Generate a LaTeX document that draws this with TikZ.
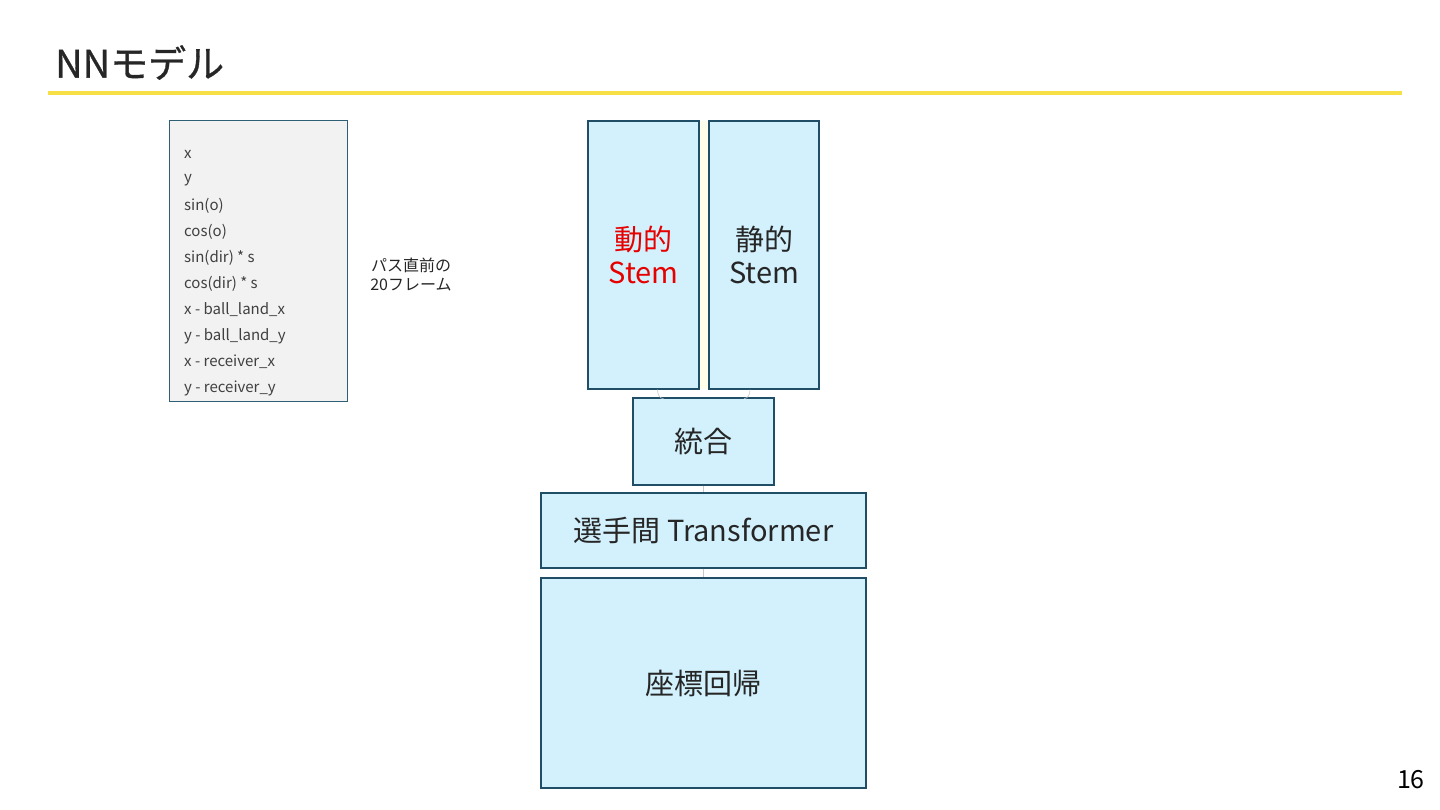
\documentclass[tikz,border=0pt]{standalone}
\usepackage{fontspec}
\setmainfont{Noto Sans CJK JP}
\newfontfamily\titlefont[FakeBold=0.8]{Noto Sans CJK JP}
\usetikzlibrary{positioning}
\definecolor{boxfill}{HTML}{D2F1FC}
\definecolor{boxline}{HTML}{1F4E66}
\definecolor{listfill}{HTML}{F2F2F2}
\definecolor{listline}{HTML}{2F5F75}
\definecolor{titlebar}{HTML}{F7E046}
\definecolor{textgray}{HTML}{404040}
\definecolor{stemred}{HTML}{E60000}
\definecolor{linkgray}{HTML}{C8C8C8}

\begin{document}
\begin{tikzpicture}[x=1pt,y=-1pt,
    block/.style={draw=boxline,line width=1.3pt,fill=boxfill,inner sep=0pt,text=black!85,font=\fontsize{29}{33}\selectfont,align=center},
    link/.style={draw=linkgray,line width=0.6pt}]
        \useasboundingbox (0,0) rectangle (1440,810);
        % title
        \node [anchor=south west,inner sep=0pt,text=black!85,font=\titlefont\fontsize{38}{40}\selectfont] (title) at (55,80) {NNモデル};
        \draw [titlebar,line width=4pt] (48,93) -- (1402,93);
        % input features
        \draw [listline,line width=1pt,fill=listfill] (169,121) rectangle (347,401);
        \foreach \feat [count=\i] in {x,y,sin(o),cos(o),sin(dir) * s,cos(dir) * s,x - ball\_land\_x,y - ball\_land\_y,x - receiver\_x,y - receiver\_y}
            \node [anchor=west,inner sep=0pt,text=textgray,font=\fontsize{15}{17}\selectfont] (feat\i) at (184,128+26*\i) {\feat};
        \node [align=center,text=black!85,font=\fontsize{16}{19}\selectfont] (frames) at (411,275) {パス直前の\\20フレーム};
        % model
        \fill [yellow!8] (697,121) rectangle (711,389);
        \node [block,minimum width=111pt,minimum height=268pt,text=stemred] (dyn) at (643.5,255) {動的\\Stem};
        \node [block,minimum width=110pt,minimum height=268pt] (sta) at (764,255) {静的\\Stem};
        \node [block,minimum width=141pt,minimum height=87pt] (merge) at (703.5,441.5) {統合};
        \node [block,minimum width=325pt,minimum height=75pt] (trans) at (703.5,530.5) {選手間 Transformer};
        \node [block,minimum width=325pt,minimum height=210pt] (reg) at (703.5,683) {座標回帰};
        \draw [link] (dyn.south) ++(14,0) to [out=-90,in=180] ++(6,9);
        \draw [link] (sta.south) ++(-14,0) to [out=-90,in=0] ++(-6,9);
        \draw [link] (merge) -- (trans);
        \draw [link] (trans) -- (reg);
        \node [anchor=south east,inner sep=0pt,text=black,font=\fontsize{25}{27}\selectfont] (page) at (1425,789) {16};
    \end{tikzpicture}
\end{document}
